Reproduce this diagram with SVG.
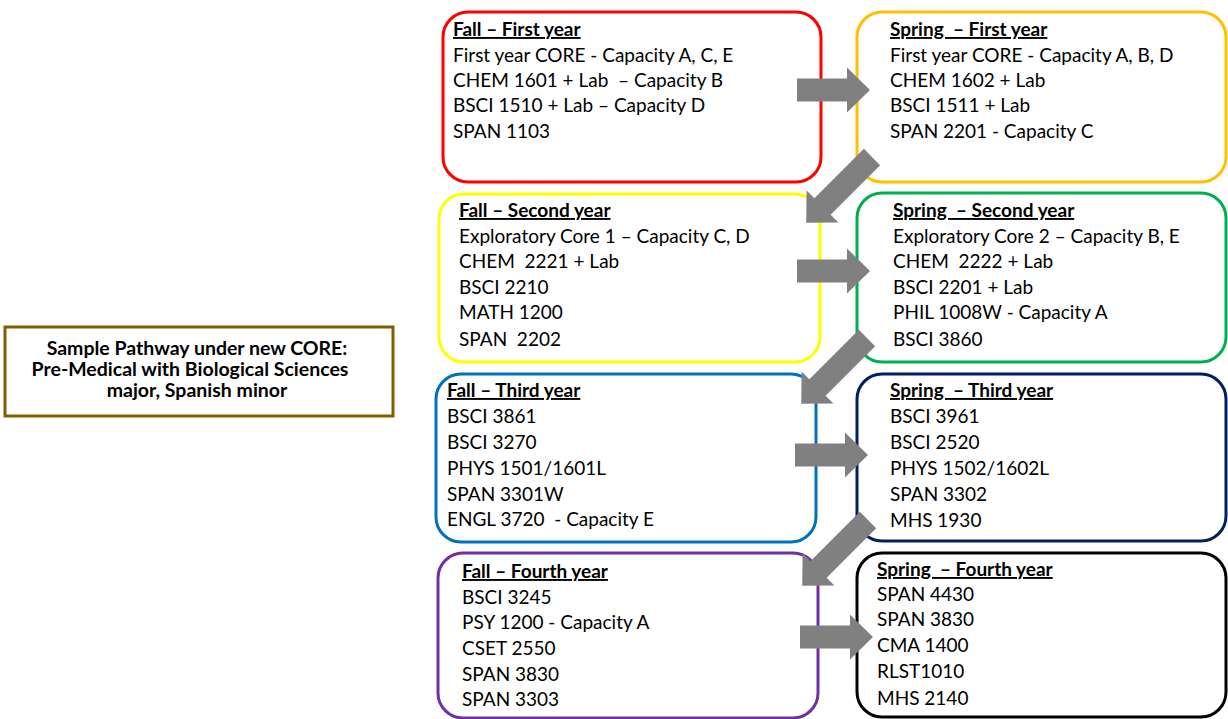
<svg xmlns="http://www.w3.org/2000/svg" width="1228" height="719" viewBox="0 0 1228 719" xml:space="preserve">
<style>
.box{fill:#fff;stroke-width:3}
.t{font-family:Lato,"Liberation Sans",sans-serif;font-size:19px;fill:#000;white-space:pre}
.h{font-weight:bold;text-decoration:underline}
.lt{font-family:Lato,"Liberation Sans",sans-serif;font-size:19.5px;font-weight:bold;fill:#000;text-anchor:middle}
.arr{fill:#808080}
</style>
<defs>
<path id="ha" d="M0,-11.5 H50 V-22.5 L73,0 L50,22.5 V11.5 H0 Z"/>
<path id="da" d="M0,-11.5 H70 V-22.5 L93,0 L70,22.5 V11.5 H0 Z"/>
</defs>
<rect width="1228" height="719" fill="#fff"/>
<g id="title">
<rect x="5" y="327" width="388" height="89" fill="#fff" stroke="#7F6000" stroke-width="3"/>
<text class="lt" x="197" y="355">Sample Pathway under new CORE:</text>
<text class="lt" x="190" y="376">Pre-Medical with Biological Sciences</text>
<text class="lt" x="197" y="397">major, Spanish minor</text>
</g>
<g id="fall1">
<rect class="box" x="443" y="12" width="378" height="170" rx="25" stroke="#FF0000"/>
<text class="t h" x="453" y="36">Fall – First year</text>
<text class="t" x="453" y="62">First year CORE - Capacity A, C, E</text>
<text class="t" x="453" y="87">CHEM 1601 + Lab  – Capacity B</text>
<text class="t" x="453" y="112">BSCI 1510 + Lab – Capacity D</text>
<text class="t" x="453" y="138">SPAN 1103</text>
</g>
<g id="spring1">
<rect class="box" x="857" y="12" width="369" height="170" rx="25" stroke="#FFC000"/>
<text class="t h" x="890" y="36">Spring  – First year</text>
<text class="t" x="890" y="62">First year CORE - Capacity A, B, D</text>
<text class="t" x="890" y="87">CHEM 1602 + Lab</text>
<text class="t" x="890" y="112">BSCI 1511 + Lab</text>
<text class="t" x="890" y="138">SPAN 2201 - Capacity C</text>
</g>
<g id="fall2">
<rect class="box" x="439" y="194" width="381" height="168" rx="25" stroke="#FFFF00"/>
<text class="t h" x="459" y="217">Fall – Second year</text>
<text class="t" x="459" y="243">Exploratory Core 1 – Capacity C, D</text>
<text class="t" x="459" y="268">CHEM  2221 + Lab</text>
<text class="t" x="459" y="294">BSCI 2210</text>
<text class="t" x="459" y="319">MATH 1200</text>
<text class="t" x="459" y="346">SPAN  2202</text>
</g>
<g id="spring2">
<rect class="box" x="857" y="193" width="369" height="169" rx="25" stroke="#00B050"/>
<text class="t h" x="893" y="217">Spring  – Second year</text>
<text class="t" x="893" y="243">Exploratory Core 2 – Capacity B, E</text>
<text class="t" x="893" y="268">CHEM  2222 + Lab</text>
<text class="t" x="893" y="294">BSCI 2201 + Lab</text>
<text class="t" x="893" y="319">PHIL 1008W - Capacity A</text>
<text class="t" x="893" y="346">BSCI 3860</text>
</g>
<g id="fall3">
<rect class="box" x="436" y="374" width="380" height="168" rx="25" stroke="#0070C0"/>
<text class="t h" x="447" y="397">Fall – Third year</text>
<text class="t" x="447" y="423">BSCI 3861</text>
<text class="t" x="447" y="449">BSCI 3270</text>
<text class="t" x="447" y="475">PHYS 1501/1601L</text>
<text class="t" x="447" y="501">SPAN 3301W</text>
<text class="t" x="447" y="526">ENGL 3720  - Capacity E</text>
</g>
<g id="spring3">
<rect class="box" x="857" y="374" width="369" height="167" rx="25" stroke="#002060"/>
<text class="t h" x="890" y="397">Spring  – Third year</text>
<text class="t" x="890" y="423">BSCI 3961</text>
<text class="t" x="890" y="449">BSCI 2520</text>
<text class="t" x="890" y="475">PHYS 1502/1602L</text>
<text class="t" x="890" y="501">SPAN 3302</text>
<text class="t" x="890" y="527">MHS 1930</text>
</g>
<g id="fall4">
<rect class="box" x="438" y="553" width="380" height="165" rx="25" stroke="#7030A0"/>
<text class="t h" x="462" y="578">Fall – Fourth year</text>
<text class="t" x="462" y="604">BSCI 3245</text>
<text class="t" x="462" y="629">PSY 1200 - Capacity A</text>
<text class="t" x="462" y="655">CSET 2550</text>
<text class="t" x="462" y="681">SPAN 3830</text>
<text class="t" x="462" y="706">SPAN 3303</text>
</g>
<g id="spring4">
<rect class="box" x="857" y="553" width="369" height="164" rx="25" stroke="#000000"/>
<text class="t h" x="877" y="576">Spring  – Fourth year</text>
<text class="t" x="877" y="601">SPAN 4430</text>
<text class="t" x="877" y="626">SPAN 3830</text>
<text class="t" x="877" y="652">CMA 1400</text>
<text class="t" x="877" y="678">RLST1010</text>
<text class="t" x="877" y="705">MHS 2140</text>
</g>
<g id="connectors" class="arr">
<use href="#ha" x="797" y="90"/>
<use href="#da" transform="translate(872,157) rotate(135)"/>
<use href="#ha" x="797" y="271"/>
<use href="#da" transform="translate(867,338) rotate(135)"/>
<use href="#ha" x="795" y="455"/>
<use href="#da" transform="translate(868,520) rotate(135)"/>
<use href="#ha" x="800" y="637"/>
</g>
</svg>
